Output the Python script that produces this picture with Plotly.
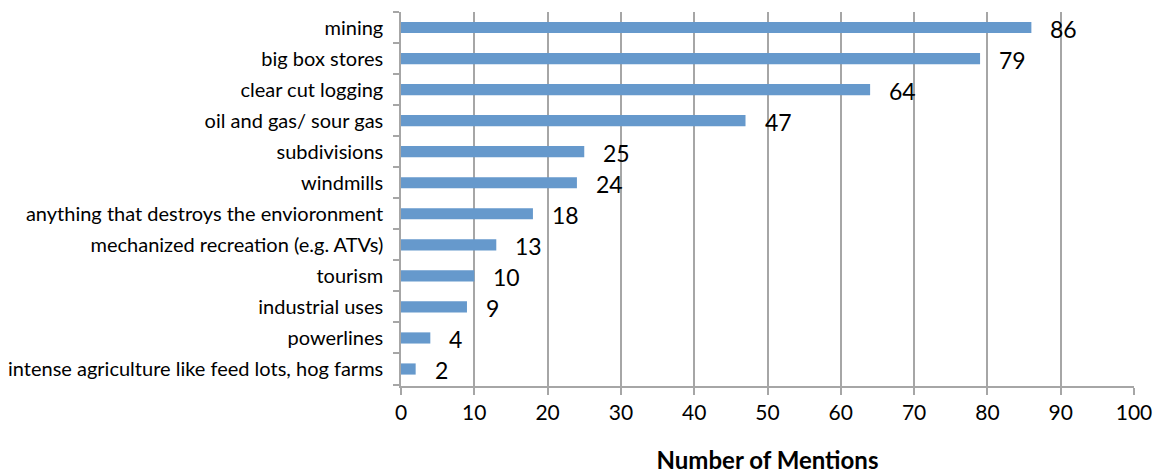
import plotly.graph_objects as go

categories = [
    "mining",
    "big box stores",
    "clear cut logging",
    "oil and gas/ sour gas",
    "subdivisions",
    "windmills",
    "anything that destroys the envioronment",
    "mechanized recreation (e.g. ATVs)",
    "tourism",
    "industrial uses",
    "powerlines",
    "intense agriculture like feed lots, hog farms",
]
mentions = [86, 79, 64, 47, 25, 24, 18, 13, 10, 9, 4, 2]
x_ticks = [0, 10, 20, 30, 40, 50, 60, 70, 80, 90, 100]

FONT = "Lato, Open Sans, sans-serif"
BAR = "#6699CC"
GRID = "#A6A6A6"

fig = go.Figure(
    go.Bar(
        x=mentions,
        y=categories,
        orientation="h",
        marker=dict(color=BAR, line=dict(width=0)),
        width=0.36,
        hoverinfo="x+y",
    )
)

# value labels to the right of each bar, sitting slightly low
for cat, val in zip(categories, mentions):
    fig.add_annotation(
        x=val, y=cat, text=str(val), showarrow=False,
        xanchor="left", yanchor="middle", xshift=17, yshift=-1,
        font=dict(family=FONT, size=23, color="#000000"),
    )

fig.update_layout(
    width=1159, height=474,
    margin=dict(l=401, r=25, t=12, b=88),
    plot_bgcolor="white", paper_bgcolor="white",
    showlegend=False,
    bargap=0.64,
)

fig.update_xaxes(
    range=[0, 100], tickvals=x_ticks, ticktext=[str(t) for t in x_ticks],
    showgrid=True, gridcolor=GRID, gridwidth=1.5,
    showline=True, linecolor=GRID, linewidth=1.5,
    ticks="outside", ticklen=7, tickcolor=GRID, tickwidth=1.5,
    tickfont=dict(family=FONT, size=21, color="#000000"),
    title=dict(text="<b>Number of Mentions</b>", standoff=30,
               font=dict(family=FONT, size=24, color="#000000")),
    zeroline=False, fixedrange=True, automargin=False,
)

fig.update_yaxes(
    categoryorder="array", categoryarray=categories[::-1],
    showline=True, linecolor=GRID, linewidth=1.5,
    ticks="outside", ticklen=6, tickcolor=GRID, tickwidth=1.5,
    tickson="boundaries",
    tickfont=dict(family=FONT, size=20, color="#000000"),
    ticklabelstandoff=12,
    showgrid=False, fixedrange=True, automargin=False,
)

fig.write_html("out.html")
